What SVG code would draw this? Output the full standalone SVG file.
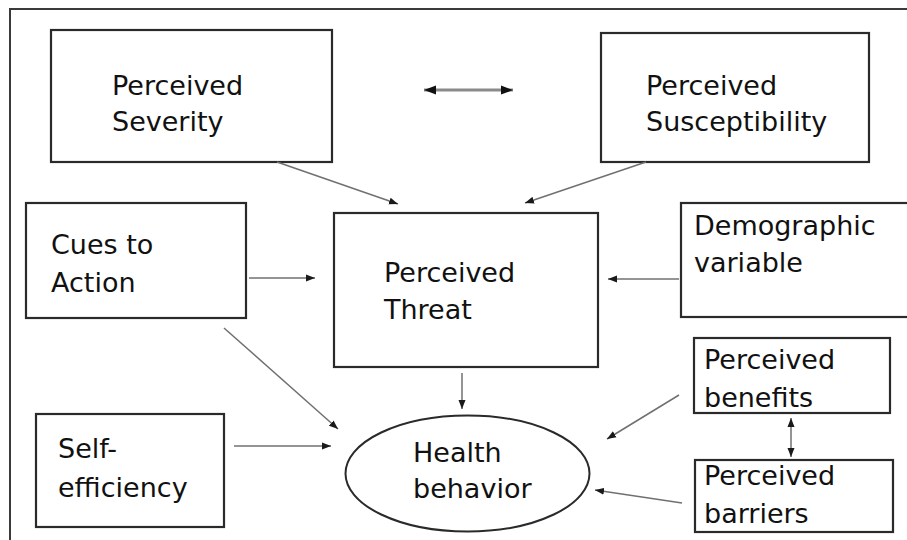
<svg xmlns="http://www.w3.org/2000/svg" width="907" height="540" viewBox="0 0 907 540">
<style>
.box{fill:#fff;stroke:#2a2a2a;stroke-width:2.2}
.t{font-family:"DejaVu Sans",sans-serif;font-size:27px;fill:#111}
.c{stroke:#707070;stroke-width:1.5;fill:none}
</style>
<defs>
<marker id="ah" markerUnits="userSpaceOnUse" markerWidth="10" markerHeight="8" refX="9" refY="4" orient="auto-start-reverse">
<path d="M0,0.5 L9,4 L0,7.5 Z" fill="#1a1a1a"/>
</marker>
<marker id="ahb" markerUnits="userSpaceOnUse" markerWidth="14" markerHeight="10" refX="12" refY="5" orient="auto-start-reverse">
<path d="M0,0.5 L12,5 L0,9.5 Z" fill="#111"/>
</marker>
</defs>
<rect width="907" height="540" fill="#fff"/>
<path d="M10,540 V9 H907" fill="none" stroke="#3a3a3a" stroke-width="2"/>
<g id="severity"><rect class="box" x="51" y="30" width="281" height="132"/><text class="t" x="112" y="95">Perceived</text><text class="t" x="112" y="131">Severity</text></g>
<g id="susceptibility"><rect class="box" x="601" y="33" width="268" height="129"/><text class="t" x="646" y="95">Perceived</text><text class="t" x="646" y="131">Susceptibility</text></g>
<g id="cues"><rect class="box" x="26" y="203" width="220" height="115"/><text class="t" x="51" y="254">Cues to</text><text class="t" x="51" y="292">Action</text></g>
<g id="threat"><rect class="box" x="334" y="213" width="264" height="154"/><text class="t" x="384" y="282">Perceived</text><text class="t" x="384" y="319">Threat</text></g>
<g id="demographic"><rect class="box" x="681" y="203" width="240" height="114"/><text class="t" x="694" y="235">Demographic</text><text class="t" x="694" y="272">variable</text></g>
<g id="benefits"><rect class="box" x="694" y="338" width="196" height="75"/><text class="t" x="704" y="369">Perceived</text><text class="t" x="704" y="407">benefits</text></g>
<g id="barriers"><rect class="box" x="695" y="460" width="198" height="72"/><text class="t" x="704" y="485">Perceived</text><text class="t" x="704" y="523">barriers</text></g>
<g id="self"><rect class="box" x="36" y="414" width="188" height="113"/><text class="t" x="58" y="458">Self-</text><text class="t" x="58" y="497">efficiency</text></g>
<g id="health"><ellipse cx="467.5" cy="473.5" rx="122" ry="58" fill="#fff" stroke="#2a2a2a" stroke-width="2"/><text class="t" x="413" y="462">Health</text><text class="t" x="413" y="498">behavior</text></g>
<g id="connectors">
<line x1="424" y1="90" x2="513" y2="90" stroke="#8a8a8a" stroke-width="3" marker-start="url(#ahb)" marker-end="url(#ahb)"/>
<line class="c" x1="277" y1="162" x2="398" y2="204" marker-end="url(#ah)"/>
<line class="c" x1="646" y1="162" x2="525" y2="203" marker-end="url(#ah)"/>
<line class="c" x1="249" y1="278" x2="315" y2="278" marker-end="url(#ah)"/>
<line class="c" x1="679" y1="279" x2="608" y2="279" marker-end="url(#ah)"/>
<line class="c" x1="462" y1="373" x2="462" y2="409" marker-end="url(#ah)"/>
<line class="c" x1="224" y1="328" x2="338" y2="429" marker-end="url(#ah)"/>
<line class="c" x1="234" y1="446" x2="331" y2="446" marker-end="url(#ah)"/>
<line class="c" x1="679" y1="395" x2="607" y2="439" marker-end="url(#ah)"/>
<line class="c" x1="682" y1="503" x2="595" y2="490" marker-end="url(#ah)"/>
<line class="c" x1="791" y1="418" x2="791" y2="457" marker-start="url(#ah)" marker-end="url(#ah)"/>
</g>
</svg>
